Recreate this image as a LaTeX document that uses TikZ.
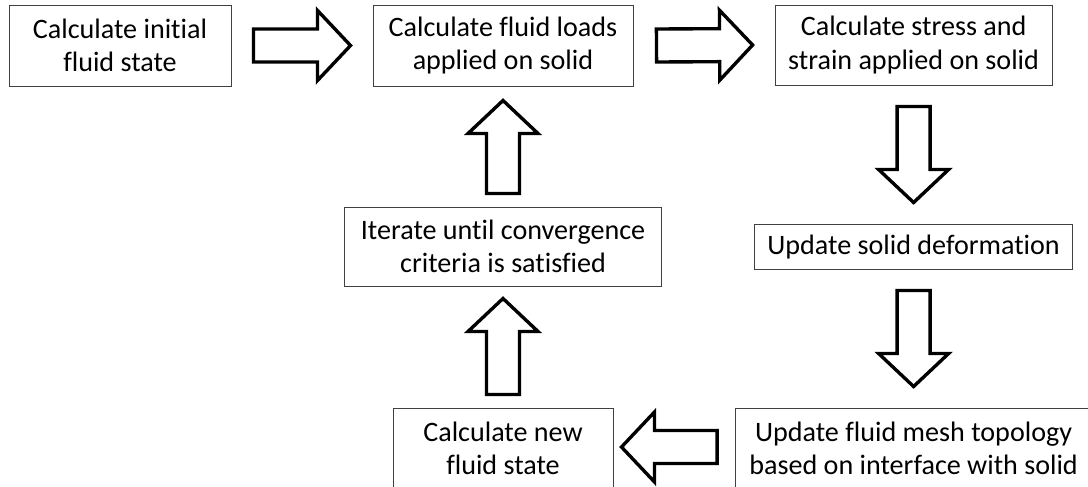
\documentclass[tikz,border=0pt]{standalone}
\usepackage{fontspec}
\setmainfont{Carlito}[Ligatures={NoCommon}]
\usetikzlibrary{calc}

% fat outlined arrow from #1 to #2
\newcommand{\blockarrow}[2]{%
  \coordinate (hb) at ($(#2)!0.825cm!(#1)$);
  \draw[block arrow] ($(#1)!0.4125cm!-90:(#2)$) -- ($(hb)!0.4125cm!-90:(#2)$)
    -- ($(hb)!0.875cm!-90:(#2)$) -- (#2) -- ($(hb)!0.875cm!90:(#2)$)
    -- ($(hb)!0.4125cm!90:(#2)$) -- ($(#1)!0.4125cm!90:(#2)$) -- cycle;
}

\begin{document}
\begin{tikzpicture}[
  box/.style={draw=black!75,line width=0.7pt,align=center,inner sep=0pt,
    font=\fontsize{20}{23.5}\selectfont,minimum height=2.025cm},
  block arrow/.style={draw=black,fill=white,line width=2.4pt,miter limit=10}]

  \useasboundingbox (0,0) rectangle (27.2,-12.15);
  \clip (0,0) rectangle (27.2,-12.15);

  \node[box,minimum width=5.55cm] (init) at (3.0,-1.1375) {Calculate initial\\fluid state};
  \node[box,minimum width=6.5cm] (loads) at (12.575,-1.1375) {Calculate fluid loads\\applied on solid};
  \node[box,minimum width=6.925cm,minimum height=2cm] (stress) at (22.84,-1.125) {Calculate stress and\\strain applied on solid};
  \node[box,minimum width=7.95cm,minimum height=1.125cm] (deform) at (22.84,-6.1625) {Update solid deformation};
  \node[box,minimum width=8.9cm] (mesh) at (22.84,-11.2125) {Update fluid mesh topology\\based on interface with solid};
  \node[box,minimum width=5.5cm] (new) at (12.575,-11.2125) {Calculate new\\fluid state};
  \node[box,minimum width=7.925cm,minimum height=1.975cm] (iter) at (12.575,-6.1625) {Iterate until convergence\\criteria is satisfied};

  \coordinate (a1) at ($(init.east)+(0.55,0)$);
  \coordinate (b1) at ($(loads.west)+(-0.55,0)$);
  \coordinate (a2) at ($(loads.east)+(0.575,0)$);
  \coordinate (b2) at ($(stress.west)+(-0.55,0)$);
  \coordinate (a3) at ($(stress.south)+(0,-0.525)$);
  \coordinate (b3) at ($(deform.north)+(0,0.525)$);
  \coordinate (a4) at ($(deform.south)+(0,-0.525)$);
  \coordinate (b4) at ($(mesh.north)+(0,0.525)$);
  \coordinate (a5) at ($(mesh.west)+(-0.45,0.0375)$);
  \coordinate (b5) at ($(new.east)+(0.2,0.0375)$);
  \coordinate (a6) at ($(new.north)+(0,0.325)$);
  \coordinate (b6) at ($(iter.south)+(0,-0.3)$);
  \coordinate (a7) at ($(iter.north)+(0,0.325)$);
  \coordinate (b7) at ($(loads.south)+(0,-0.35)$);

  \blockarrow{a1}{b1}
  \blockarrow{a2}{b2}
  \blockarrow{a3}{b3}
  \blockarrow{a4}{b4}
  \blockarrow{a5}{b5}
  \blockarrow{a6}{b6}
  \blockarrow{a7}{b7}
\end{tikzpicture}
\end{document}
